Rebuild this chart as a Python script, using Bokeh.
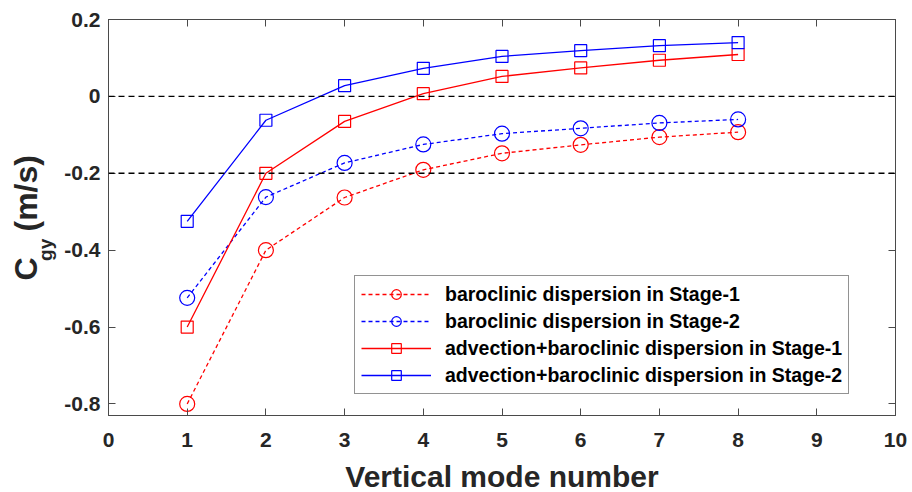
import math

from bokeh.embed import file_html
from bokeh.resources import INLINE
from bokeh.plotting import figure
from bokeh.layouts import row
from bokeh.core.properties import value
from bokeh.models import (Range1d, FixedTicker, LinearAxis, Span,
                          CustomJSTickFormatter)

# ---- data -------------------------------------------------------------
modes = [1, 2, 3, 4, 5, 6, 7, 8]

disp_stage1 = [-0.800, -0.400, -0.263, -0.191, -0.148, -0.126, -0.106, -0.093]
disp_stage2 = [-0.524, -0.262, -0.173, -0.125, -0.097, -0.083, -0.069, -0.060]
adv_disp_stage1 = [-0.600, -0.200, -0.065, 0.007, 0.052, 0.074, 0.094, 0.109]
adv_disp_stage2 = [-0.325, -0.062, 0.028, 0.073, 0.104, 0.119, 0.132, 0.140]

labels = [
    "baroclinic dispersion in Stage-1",
    "baroclinic dispersion in Stage-2",
    "advection+baroclinic dispersion in Stage-1",
    "advection+baroclinic dispersion in Stage-2",
]

x_ticks = [0, 1, 2, 3, 4, 5, 6, 7, 8, 9, 10]
y_ticks = [-0.8, -0.6, -0.4, -0.2, 0, 0.2]
ref_levels = [0, -0.2]

Y_MIN, Y_MAX = -0.83, 0.2

# y-axis title pieces: main letter, subscript, units
ytitle_main = "C"
ytitle_sub = "gy"
ytitle_units = "(m/s)"

# ---- styling ------------------------------------------------------------
FONT = "Liberation Sans"
TXT = "#262626"
AX = "#4a4a4a"
RED = "#ff0000"
BLUE = "#0000ff"

PANEL_W = 61      # width of the strip holding the rotated y title
FRAME_W, FRAME_H = 787, 396
TOP, BOTTOM = 19, 77

p = figure(frame_width=FRAME_W, frame_height=FRAME_H, output_backend="svg",
           toolbar_location=None,
           x_range=Range1d(0, 10), y_range=Range1d(Y_MIN, Y_MAX),
           min_border_left=44, min_border_right=17,
           min_border_top=TOP, min_border_bottom=BOTTOM)
p.background_fill_color = "white"
p.border_fill_color = "white"
p.grid.visible = False
p.outline_line_color = AX
p.outline_line_width = 1

yfmt = CustomJSTickFormatter(code="return Math.abs(tick) < 1e-9 ? '0' : tick.toFixed(1);")

def style_axis(ax, ticks, show_labels):
    ax.ticker = FixedTicker(ticks=ticks)
    ax.minor_tick_line_color = None
    ax.major_tick_in = 7
    ax.major_tick_out = 0
    ax.major_tick_line_color = AX
    ax.major_tick_line_width = 1
    ax.axis_line_color = AX
    ax.axis_line_width = 1
    ax.major_label_text_font = FONT
    ax.major_label_text_font_style = "bold"
    if show_labels:
        ax.major_label_text_color = TXT
        ax.major_label_text_font_size = "21px"
    else:
        # tick marks only on the mirrored edges
        ax.major_label_text_color = None
        ax.major_label_text_font_size = "1px"
        ax.major_label_standoff = 0

style_axis(p.xaxis[0], x_ticks, True)
style_axis(p.yaxis[0], y_ticks, True)
p.xaxis[0].major_label_standoff = 17
p.yaxis[0].major_label_standoff = 8
p.yaxis[0].formatter = yfmt

p.xaxis[0].axis_label = "Vertical mode number"
p.xaxis[0].axis_label_text_font = FONT
p.xaxis[0].axis_label_text_font_style = "bold"
p.xaxis[0].axis_label_text_font_size = "30px"
p.xaxis[0].axis_label_text_color = TXT
p.xaxis[0].axis_label_standoff = 10

# box-style ticks on the top and right edges
top_ax = LinearAxis()
right_ax = LinearAxis()
style_axis(top_ax, x_ticks, False)
style_axis(right_ax, y_ticks, False)
p.add_layout(top_ax, "above")
p.add_layout(right_ax, "right")

# dashed reference levels
for lv in ref_levels:
    p.add_layout(Span(location=lv, dimension="width", line_color="black",
                      line_width=1.4, line_dash="6 4"))

# ---- series -------------------------------------------------------------
series = [
    (disp_stage1, RED, "4 3", "circle", 15, labels[0]),
    (disp_stage2, BLUE, "4 3", "circle", 15, labels[1]),
    (adv_disp_stage1, RED, "solid", "square", 12, labels[2]),
    (adv_disp_stage2, BLUE, "solid", "square", 12, labels[3]),
]
for ys, col, dash, mk, sz, lab in series:
    p.line(modes, ys, line_color=col, line_width=1.3, line_dash=dash,
           legend_label=lab)
    p.scatter(modes, ys, marker=mk, size=sz, line_color=col, line_width=1.2,
              fill_color=None, legend_label=lab)

# ---- legend -------------------------------------------------------------
lg = p.legend[0]
lg.location = (246, 21)
lg.label_text_font = FONT
lg.label_text_font_style = "bold"
lg.label_text_font_size = "19.5px"
lg.label_text_color = "black"
lg.glyph_width = 70
lg.glyph_height = 24
lg.label_height = 24
lg.label_standoff = 14
lg.spacing = 3
lg.padding = 6
lg.margin = 0
lg.border_line_color = TXT
lg.border_line_width = 1
lg.background_fill_color = "white"
lg.background_fill_alpha = 1.0

# ---- y-axis title strip (rotated text with a subscript) ------------------
# The strip shares the main plot's vertical frame and y range, so the title
# pieces are placed in the same units as the axis they describe.
yt = figure(frame_width=PANEL_W, frame_height=FRAME_H, output_backend="svg",
            toolbar_location=None, x_axis_type=None, y_axis_type=None,
            x_range=Range1d(0, PANEL_W), y_range=Range1d(Y_MIN, Y_MAX),
            min_border_left=0, min_border_right=0,
            min_border_top=TOP, min_border_bottom=BOTTOM)
yt.outline_line_color = None
yt.grid.visible = False
yt.background_fill_color = "white"
yt.border_fill_color = "white"

# each piece is anchored at the centre of its own text box
title_common = dict(angle=math.pi / 2, text_font=value(FONT),
                    text_font_style="bold", text_color=TXT,
                    text_align="center", text_baseline="middle")
yt.text(x=[25], y=[-0.449], text=[ytitle_main],
        text_font_size=value("32px"), **title_common)
yt.text(x=[45], y=[-0.399], text=[ytitle_sub],
        text_font_size=value("19px"), **title_common)
yt.text(x=[25], y=[-0.252], text=[ytitle_units],
        text_font_size=value("32px"), **title_common)

layout = row(yt, p, spacing=0)

open("out.html", "w").write(file_html(layout, INLINE))
